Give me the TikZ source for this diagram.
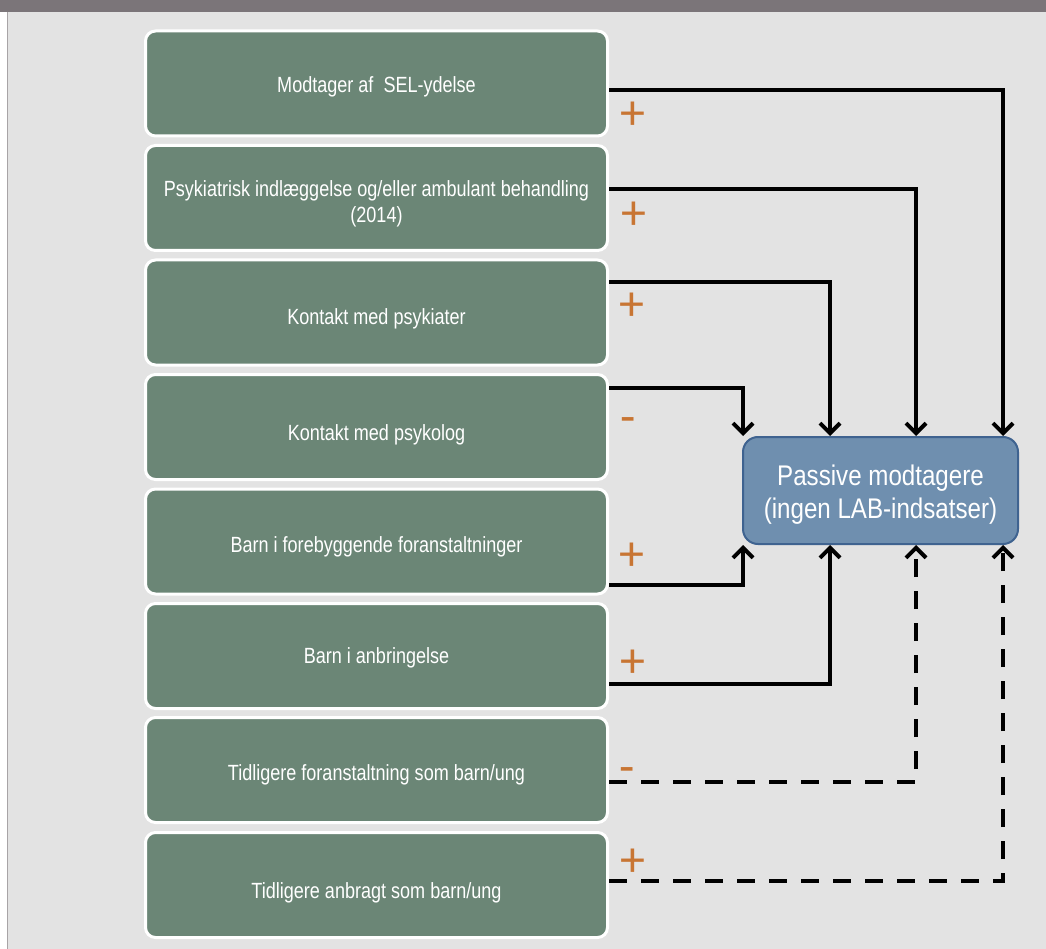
\documentclass[tikz,border=0pt]{standalone}
\usepackage{fontspec}
\setmainfont{Liberation Sans}
\newfontfamily\boxfont[FakeStretch=0.82]{Liberation Sans}
\newfontfamily\bigfont[FakeStretch=0.85]{Liberation Sans}
\newfontfamily\signfont{Carlito}
\usetikzlibrary{arrows.meta}
\definecolor{bgc}{HTML}{E3E3E3}
\definecolor{barc}{HTML}{7B7579}
\definecolor{edgec}{HTML}{A8A4A6}
\definecolor{boxg}{HTML}{6B8676}
\definecolor{tfill}{HTML}{6F8FAF}
\definecolor{tdraw}{HTML}{3F6390}
\definecolor{signc}{HTML}{C87533}
\tikzset{
  factor/.style={draw=white, line width=3pt, fill=boxg, rounded corners=10pt,
    minimum width=462pt, minimum height=105pt, inner sep=0pt, text=white,
    align=center, font=\boxfont\fontsize{22}{26}\selectfont},
  base/.style={text height=#1, text depth=0pt},
  target/.style={draw=tdraw, line width=2pt, fill=tfill, rounded corners=15pt,
    minimum width=275pt, minimum height=107pt, inner sep=0pt, text=white,
    align=center, font=\bigfont\fontsize{28.4}{33}\selectfont},
  link/.style={line width=4pt, line join=miter, -{Straight Barb[length=10pt,width=20pt]}},
  dlink/.style={link, dash pattern=on 18pt off 14pt},
  sign/.style={text=signc, font=\signfont\fontsize{50}{50}\selectfont, inner sep=0pt}
}
\begin{document}
\begin{tikzpicture}[x=1pt,y=-1pt]
\useasboundingbox (0,0) rectangle (1046,949);
\fill[white] (0,0) rectangle (1046,949);
\fill[bgc] (8,12) rectangle (1046,949);
\fill[barc] (0,0) rectangle (1046,12);
\draw[edgec, line width=1.5pt] (7.5,12) -- (7.5,949);

\node[factor, base=18.4pt] (b1) at (376.5,83.5) {Modtager af \ SEL-ydelse};
\node[factor, base=49.4pt] (b2) at (376.5,198) {Psykiatrisk indlæggelse og/eller ambulant behandling\\(2014)};
\node[factor, base=23pt] (b3) at (376.5,312.5) {Kontakt med psykiater};
\node[factor, base=26pt] (b4) at (376.5,427) {Kontakt med psykolog};
\node[factor, base=21pt] (b5) at (376.5,541.5) {Barn i forebyggende foranstaltninger};
\node[factor, base=15.4pt] (b6) at (376.5,656) {Barn i anbringelse};
\node[factor, base=20pt] (b7) at (376.5,770) {Tidligere foranstaltning som barn/ung};
\node[factor, base=27.4pt] (b8) at (376.5,885) {Tidligere anbragt som barn/ung};

\node[target, base=55.6pt] (t) at (880.5,490.5) {Passive modtagere\\(ingen LAB-indsatser)};

\draw[link] (b1.east |- 0,90) -| (t.north -| 1003,0);
\draw[link] (b2.east |- 0,189) -| (t.north -| 916,0);
\draw[link] (b3.east |- 0,282) -| (t.north -| 830,0);
\draw[link] (b4.east |- 0,388) -| (t.north -| 743,0);
\draw[link] (b5.east |- 0,585) -| (t.south -| 743,0);
\draw[link] (b6.east |- 0,684) -| (t.south -| 830,0);
\draw[dlink] (b7.east |- 0,782) -| (t.south -| 916,0);
\draw[dlink] (b8.east |- 0,881) -| (t.south -| 1003,0);

\node[sign] (s1) at (633,116) {+};
\node[sign] (s2) at (634,216) {+};
\node[sign] (s3) at (632,307) {+};
\node[sign] (s4) at (628,426) {-};
\node[sign] (s5) at (632,557) {+};
\node[sign] (s6) at (633,664) {+};
\node[sign] (s7) at (627,776) {-};
\node[sign] (s8) at (633,863) {+};
\end{tikzpicture}
\end{document}
